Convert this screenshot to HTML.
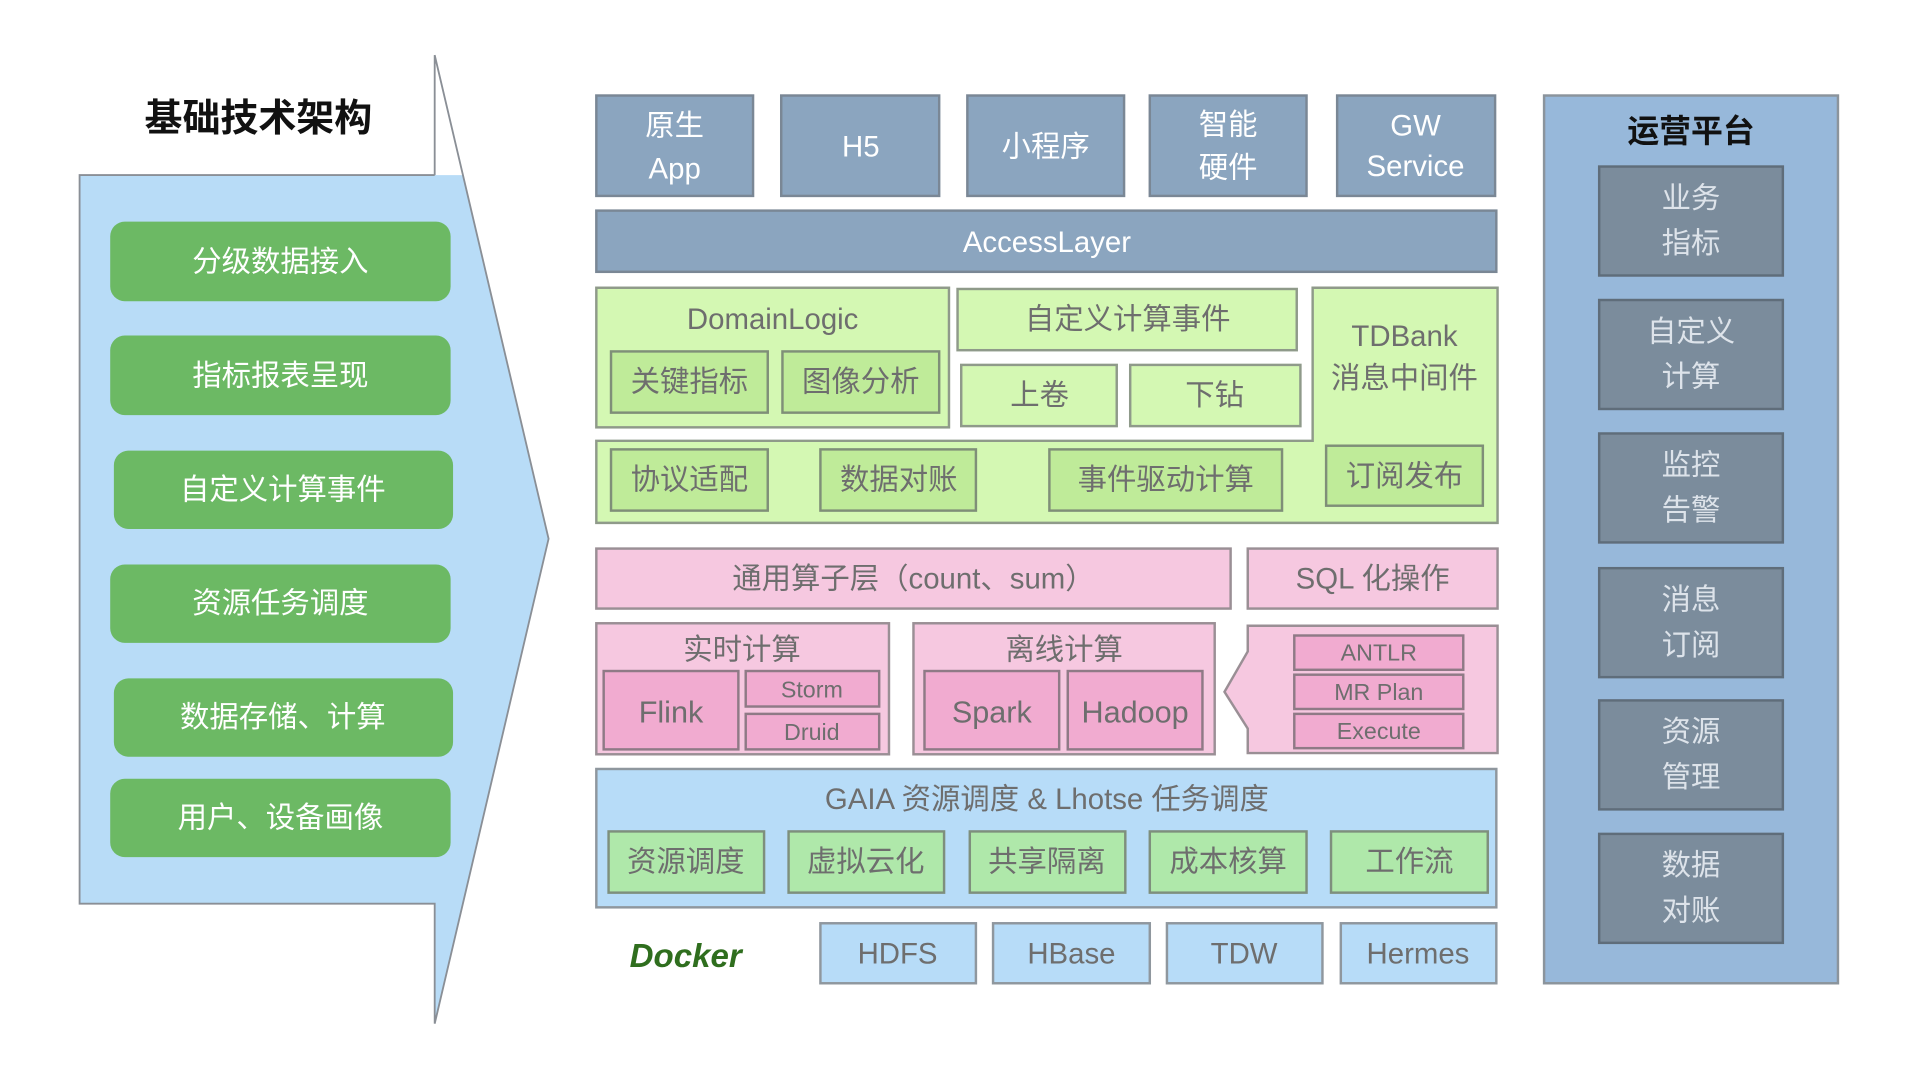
<!DOCTYPE html>
<html><head><meta charset="utf-8"><style>
html,body{margin:0;padding:0;background:#fff;}
svg{display:block;}
text{font-family:"Liberation Sans","Noto Sans CJK SC",sans-serif;text-anchor:middle;dominant-baseline:central;}
.g{fill:#6e6e6e;font-size:24px;}
.w{fill:#fff;font-size:24px;}
.l{fill:#dde3ea;font-size:24px;}
</style></head><body>
<svg width="1920" height="1080" viewBox="0 0 1568 882" preserveAspectRatio="none" xmlns="http://www.w3.org/2000/svg">
<rect width="1568" height="882" fill="#fff"/>
<!-- left arrow -->
<polygon points="65,143 378,143 448,440 355,836 355,738 65,738" fill="#b8dcf7"/>
<polyline points="355,143 65,143 65,738 355,738 355,836 448,440 355,45 355,143" fill="none" stroke="#8a8f96" stroke-width="1.5"/>
<text x="211" y="97" style="font-size:31px;font-weight:bold;fill:#111">基础技术架构</text>
<g fill="#6cb964">
<rect x="90" y="181" width="278" height="65" rx="12"/>
<rect x="90" y="274" width="278" height="65" rx="12"/>
<rect x="93" y="368" width="277" height="64" rx="12"/>
<rect x="90" y="461" width="278" height="64" rx="12"/>
<rect x="93" y="554" width="277" height="64" rx="12"/>
<rect x="90" y="636" width="278" height="64" rx="12"/>
</g>
<text class="w" x="229" y="214">分级数据接入</text>
<text class="w" x="229" y="307">指标报表呈现</text>
<text class="w" x="231" y="400">自定义计算事件</text>
<text class="w" x="229" y="493">资源任务调度</text>
<text class="w" x="231" y="586">数据存储、计算</text>
<text class="w" x="229" y="668">用户、设备画像</text>

<!-- top row -->
<g fill="#8ba5bf" stroke="#7a8795" stroke-width="2">
<rect x="487" y="78" width="128" height="82"/>
<rect x="638" y="78" width="129" height="82"/>
<rect x="790" y="78" width="128" height="82"/>
<rect x="939" y="78" width="128" height="82"/>
<rect x="1092" y="78" width="129" height="82"/>
<rect x="487" y="172" width="735" height="50"/>
</g>
<text class="w" x="551" y="103">原生</text><text class="w" x="551" y="138">App</text>
<text class="w" x="703" y="120">H5</text>
<text class="w" x="854" y="120">小程序</text>
<text class="w" x="1003" y="102">智能</text><text class="w" x="1003" y="137">硬件</text>
<text class="w" x="1156" y="103">GW</text><text class="w" x="1156" y="136">Service</text>
<text class="w" x="855" y="198">AccessLayer</text>

<!-- green area -->
<g fill="#d4f8b3" stroke="#8f9a8a" stroke-width="2">
<polygon points="1072,235 1223,235 1223,427 487,427 487,360 1072,360"/>
<rect x="487" y="235" width="288" height="114"/>
<rect x="782" y="236" width="277" height="50"/>
<rect x="785" y="298" width="127" height="50"/>
<rect x="923" y="298" width="139" height="50"/>
</g>
<g fill="#bfeb99" stroke="#7f8f78" stroke-width="2">
<rect x="499" y="287" width="128" height="50"/>
<rect x="639" y="287" width="128" height="50"/>
<rect x="499" y="367" width="128" height="50"/>
<rect x="670" y="367" width="127" height="50"/>
<rect x="857" y="367" width="190" height="50"/>
<rect x="1083" y="364" width="128" height="49"/>
</g>
<text class="g" x="631" y="261">DomainLogic</text>
<text class="g" x="563" y="312">关键指标</text>
<text class="g" x="703" y="312">图像分析</text>
<text class="g" x="921" y="261">自定义计算事件</text>
<text class="g" x="849" y="323">上卷</text>
<text class="g" x="992" y="323">下钻</text>
<text class="g" x="1147" y="275">TDBank</text>
<text class="g" x="1147" y="309">消息中间件</text>
<text class="g" x="563" y="392">协议适配</text>
<text class="g" x="734" y="392">数据对账</text>
<text class="g" x="952" y="392">事件驱动计算</text>
<text class="g" x="1147" y="389">订阅发布</text>

<!-- pink -->
<g fill="#f6c8e0" stroke="#9a8f95" stroke-width="2">
<rect x="487" y="448" width="518" height="49"/>
<rect x="1019" y="448" width="204" height="49"/>
<rect x="487" y="509" width="239" height="107"/>
<rect x="746" y="509" width="246" height="107"/>
<polygon points="1019,511 1223,511 1223,615 1019,615 1019,595 1000,565 1019,532"/>
</g>
<g fill="#f1abd0" stroke="#8f7a86" stroke-width="2">
<rect x="493" y="548" width="110" height="64"/>
<rect x="609" y="548" width="109" height="29"/>
<rect x="609" y="583" width="109" height="29"/>
<rect x="755" y="548" width="110" height="64"/>
<rect x="872" y="548" width="110" height="64"/>
<rect x="1057" y="519" width="138" height="28"/>
<rect x="1057" y="551" width="138" height="28"/>
<rect x="1057" y="583" width="138" height="28"/>
</g>
<text class="g" x="746" y="473">通用算子层（count、sum）</text>
<text class="g" x="1121" y="473">SQL 化操作</text>
<text class="g" x="606" y="531">实时计算</text>
<text class="g" x="548" y="582" style="font-size:25px">Flink</text>
<text class="g" x="663" y="563" style="font-size:19px">Storm</text>
<text class="g" x="663" y="598" style="font-size:19px">Druid</text>
<text class="g" x="869" y="531">离线计算</text>
<text class="g" x="810" y="582" style="font-size:25px">Spark</text>
<text class="g" x="927" y="582" style="font-size:25px">Hadoop</text>
<text class="g" x="1126" y="533" style="font-size:19px">ANTLR</text>
<text class="g" x="1126" y="565" style="font-size:19px">MR Plan</text>
<text class="g" x="1126" y="597" style="font-size:19px">Execute</text>

<!-- blue -->
<rect x="487" y="628" width="735" height="113" fill="#b7dcf8" stroke="#8f979e" stroke-width="2"/>
<g fill="#afe8aa" stroke="#7e8f7d" stroke-width="2">
<rect x="497" y="679" width="127" height="50"/>
<rect x="644" y="679" width="127" height="50"/>
<rect x="792" y="679" width="127" height="50"/>
<rect x="939" y="679" width="128" height="50"/>
<rect x="1087" y="679" width="128" height="50"/>
</g>
<text class="g" x="855" y="653">GAIA 资源调度 &amp; Lhotse 任务调度</text>
<text class="g" x="560" y="704">资源调度</text>
<text class="g" x="707" y="704">虚拟云化</text>
<text class="g" x="855" y="704">共享隔离</text>
<text class="g" x="1003" y="704">成本核算</text>
<text class="g" x="1151" y="704">工作流</text>
<g fill="#b7dcf8" stroke="#8f979e" stroke-width="2">
<rect x="670" y="754" width="127" height="49"/>
<rect x="811" y="754" width="128" height="49"/>
<rect x="953" y="754" width="127" height="49"/>
<rect x="1095" y="754" width="127" height="49"/>
</g>
<text x="560" y="781" style="font-size:27px;font-weight:bold;font-style:italic;fill:#2f6e1e">Docker</text>
<text class="g" x="733" y="779">HDFS</text>
<text class="g" x="875" y="779">HBase</text>
<text class="g" x="1016" y="779">TDW</text>
<text class="g" x="1158" y="779">Hermes</text>

<!-- right panel -->
<rect x="1261" y="78" width="240" height="725" fill="#97b8da" stroke="#8b949c" stroke-width="2"/>
<text x="1381" y="107" style="font-size:26px;font-weight:bold;fill:#111">运营平台</text>
<g fill="#7b8c9c" stroke="#5f6d7a" stroke-width="2">
<rect x="1306" y="136" width="150" height="89"/>
<rect x="1306" y="245" width="150" height="89"/>
<rect x="1306" y="354" width="150" height="89"/>
<rect x="1306" y="464" width="150" height="89"/>
<rect x="1306" y="572" width="150" height="89"/>
<rect x="1306" y="681" width="150" height="89"/>
</g>
<text class="l" x="1381" y="162">业务</text><text class="l" x="1381" y="199">指标</text>
<text class="l" x="1381" y="271">自定义</text><text class="l" x="1381" y="308">计算</text>
<text class="l" x="1381" y="380">监控</text><text class="l" x="1381" y="417">告警</text>
<text class="l" x="1381" y="490">消息</text><text class="l" x="1381" y="527">订阅</text>
<text class="l" x="1381" y="598">资源</text><text class="l" x="1381" y="635">管理</text>
<text class="l" x="1381" y="707">数据</text><text class="l" x="1381" y="744">对账</text>
</svg>
</body></html>
